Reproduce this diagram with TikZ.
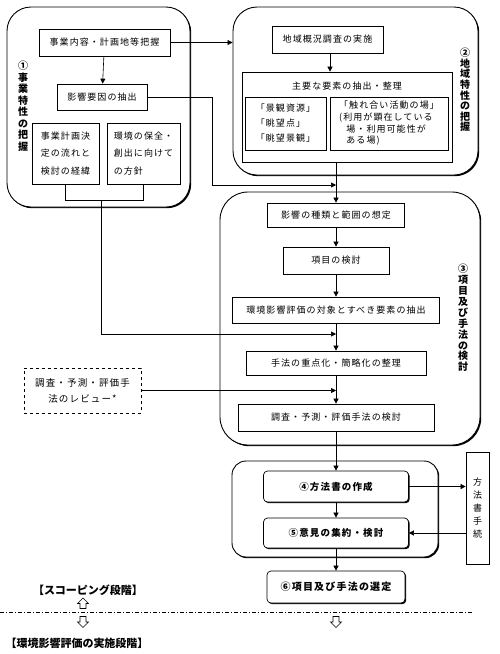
\documentclass[tikz,border=0pt]{standalone}
\usepackage{fontspec}
\setmainfont{Noto Sans CJK JP}
\newfontfamily\jp{Noto Sans CJK JP}[LetterSpace=12]
\usetikzlibrary{arrows.meta,shadows}
\begin{document}
\begin{tikzpicture}[x=1pt,y=-1pt,
  arr/.style={-{Triangle[length=5pt,width=5pt]}, line width=0.6pt},
  ln/.style={line width=0.6pt},
  box/.style={draw, line width=0.7pt, inner sep=0pt, align=center, font=\jp\fontsize{9}{11}\selectfont},
  grp/.style={draw, line width=0.9pt, inner sep=0pt, fill=white,
    drop shadow={shadow xshift=1.2pt, shadow yshift=-1.2pt, fill=black, opacity=1}},
  rbox/.style={box, rounded corners=4pt, fill=white,
    drop shadow={shadow xshift=1.2pt, shadow yshift=-1.2pt, fill=black, opacity=1}},
  vlabel/.style={inner sep=0pt, align=center, font=\bfseries\fontsize{10}{#1}\selectfont},
  hollow/.style={draw, line width=0.6pt, fill=white, line join=miter},
  stage/.style={inner sep=0pt, font=\bfseries\fontsize{11}{13}\selectfont}
]
\useasboundingbox (0,0) rectangle (499,654);
\fill[white] (0,0) rectangle (499,654);

% groups
\node[grp, rounded corners=24pt, minimum width=183pt, minimum height=200pt] (g1) at (98.5,107) {};
\node[grp, rounded corners=24pt, minimum width=245pt, minimum height=168pt] (g2) at (355.5,91) {};
\node[grp, rounded corners=28pt, minimum width=260pt, minimum height=253pt] (g3) at (350,318.5) {};
\node[grp, rounded corners=14pt, minimum width=206pt, minimum height=96pt] (g4) at (335,509) {};

% group 1
\node[box, minimum width=131pt, minimum height=27pt] (b1) at (104.5,42.5) {事業内容・計画地等把握};
\node[box, minimum width=90pt, minimum height=26pt] (b2) at (102,97) {影響要因の抽出};
\node[box, align=left, font=\jp\fontsize{9}{17.5}\selectfont, minimum width=67pt, minimum height=61pt] (b3) at (65.5,153.5) {事業計画決\\定の流れと\\検討の経緯};
\node[box, align=left, font=\jp\fontsize{9}{17.5}\selectfont, minimum width=73pt, minimum height=61pt] (b4) at (143.5,153.5) {環境の保全・\\創出に向けて\\の方針};
\node[vlabel=11.5] (l1) at (23,106) {①\\事\\業\\特\\性\\の\\把\\握};

% group 2
\node[box, minimum width=111pt, minimum height=27pt] (c1) at (327.5,39.5) {地域概況調査の実施};
\node[box, minimum width=210pt, minimum height=90pt] (c2) at (347,117) {};
\node[inner sep=0pt, font=\jp\fontsize{9}{11}\selectfont] (c2t) at (347,86) {主要な要素の抽出・整理};
\node[box, align=left, font=\jp\fontsize{9}{15}\selectfont, minimum width=81pt, minimum height=53pt] (c3) at (285.5,123.5) {「景観資源」\\「眺望点」\\「眺望景観」};
\node[box, align=left, font=\jp\fontsize{9}{11.7}\selectfont, minimum width=118pt, minimum height=53pt] (c4) at (389,123.5) {「触れ合い活動の場」\\(利用が顕在している\\\hspace*{0.8em}場・利用可能性が\\\hspace*{0.8em}ある場)};
\node[vlabel=10.6] (l2) at (465,90) {②\\地\\域\\特\\性\\の\\把\\握};

% group 3
\node[box, minimum width=137pt, minimum height=24pt] (d1) at (336,215) {影響の種類と範囲の想定};
\node[box, minimum width=106pt, minimum height=27pt] (d2) at (336,260.5) {項目の検討};
\node[box, minimum width=207pt, minimum height=26pt] (d3) at (336,310) {環境影響評価の対象とすべき要素の抽出};
\node[box, minimum width=180pt, minimum height=24pt] (d4) at (336,363) {手法の重点化・簡略化の整理};
\node[box, minimum width=196pt, minimum height=27pt] (d5) at (336,417.5) {調査・予測・評価手法の検討};
\node[vlabel=10.9] (l3) at (463,318) {③\\項\\目\\及\\び\\手\\法\\の\\検\\討};

% dashed review box
\node[box, dashed, font=\jp\fontsize{9.5}{16}\selectfont, minimum width=117pt, minimum height=45pt] (e) at (82.5,390.5) {調査・予測・評価手\\法のレビュー*};

% group 4 and after
\node[rbox, font=\jp\bfseries\fontsize{9.5}{11}\selectfont, minimum width=145pt, minimum height=31pt] (f1) at (336,486.5) {④方法書の作成};
\node[rbox, font=\jp\bfseries\fontsize{9.5}{11}\selectfont, minimum width=145pt, minimum height=30pt] (f2) at (336,533) {⑤意見の集約・検討};
\node[rbox, font=\jp\bfseries\fontsize{10}{11}\selectfont, minimum width=138pt, minimum height=32pt] (f3) at (336,587) {⑥項目及び手法の選定};
\node[box, font=\jp\fontsize{9}{13}\selectfont, minimum width=23pt, minimum height=112pt] (h) at (477.5,508) {方\\法\\書\\手\\続};

% connectors
\coordinate (k1) at (212,185);
\coordinate (br) at (101,200);
\coordinate (m1) at (336,334);
\draw[arr] (b1) -- (b2);
\draw[arr] (b1.east) -- (b1.east -| g2.west);
\draw[arr] (b2.east) -| (k1) -- (k1 -| d1.north);
\draw[ln] (b3.south) |- (br);
\draw[ln] (b4.south) |- (br);
\draw[arr] (br) |- (m1);
\draw[arr] (c1.south -| 330,0) -- (c2.north -| 330,0);
\draw[arr] (c2.south -| d1.north) -- (d1.north);
\draw[arr] (d1) -- (d2);
\draw[arr] (d2) -- (d3);
\draw[arr] (d3) -- (d4);
\draw[arr] (d4) -- (d5);
\draw[arr] (e.east) -- (e.east -| d5.north);
\draw[arr] (d5) -- (f1);
\draw[arr] (f1) -- (f2);
\draw[arr] (f2) -- (f3);
\draw[arr] (f1.east) -- (f1.east -| h.west);
\draw[arr] (h.west |- f2.east) -- (f2.east);

% stage separator
\coordinate (s0) at (0,612);
\coordinate (s1) at (472,612);
\draw[line width=0.6pt, dash pattern=on 4pt off 2pt on 1pt off 2pt] (s0) -- (s1);
\node[stage] (t1) at (88,590) {【スコーピング段階】};
\node[stage] (t2) at (77,643) {【環境影響評価の実施段階】};
\draw[hollow] (83,598) -- (88.5,603.5) -- (86,603.5) -- (86,608.5) -- (80,608.5) -- (80,603.5) -- (77.5,603.5) -- cycle;
\draw[hollow] (80,616.5) -- (86,616.5) -- (86,622) -- (88.5,622) -- (83,627.5) -- (77.5,622) -- (80,622) -- cycle;
\draw[hollow] (333,616.5) -- (339,616.5) -- (339,622) -- (341.5,622) -- (336,627.5) -- (330.5,622) -- (333,622) -- cycle;
\end{tikzpicture}
\end{document}
